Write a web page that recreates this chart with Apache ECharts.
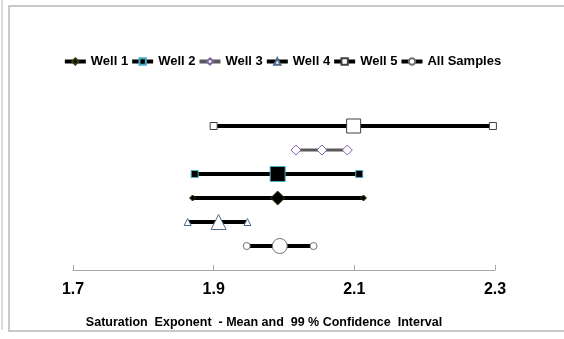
<!DOCTYPE html>
<html>
<head>
<meta charset="utf-8">
<script src="https://cdn.jsdelivr.net/npm/echarts@6/dist/echarts.min.js"></script>
<style>
  html, body { margin: 0; padding: 0; background: #fff; }
  #chart { width: 564px; height: 339px; }
</style>
</head>
<body>
<div id="chart"></div>
<script>
// names, in legend order
const wellNames = ['Well 1', 'Well 2', 'Well 3', 'Well 4', 'Well 5', 'All Samples'];
// row on the chart (1 = bottom)
const rows = [3, 4, 5, 2, 6, 1];
// [low, mean, high] of the 99% confidence interval
const lowVals  = [1.870, 1.873, 2.017, 1.863, 1.900, 1.947];
const meanVals = [1.991, 1.991, 2.054, 1.907, 2.099, 1.994];
const highVals = [2.113, 2.107, 2.090, 1.948, 2.297, 2.042];
const xTicks = [1.7, 1.9, 2.1, 2.3];

const styles = [
    { symbol: 'diamond',  fill: '#000', border: '#3a3a10', line: '#000', width: 4 },
    { symbol: 'rect',     fill: '#000', border: '#4bacc6', line: '#000', width: 4 },
    { symbol: 'diamond',  fill: '#fff', border: '#8064a2', line: '#595959', width: 3 },
    { symbol: 'triangle', fill: '#fff', border: '#4f6b8a', line: '#000', width: 4 },
    { symbol: 'rect',     fill: '#fff', border: '#404040', line: '#000', width: 4 },
    { symbol: 'circle',   fill: '#fff', border: '#707070', line: '#000', width: 4 }
];
const bigSize = [14, 15, 10, 15, 14, 15];
const smallSize = [6, 7, 10, 7, 7, 7];

const chart = echarts.init(document.getElementById('chart'));

const series = wellNames.map((name, i) => ({
    name: name,
    type: 'line',
    symbol: styles[i].symbol,
    symbolSize: (v, p) => p.dataIndex === 1 ? bigSize[i] : smallSize[i],
    lineStyle: { color: styles[i].line, width: styles[i].width },
    itemStyle: { color: styles[i].fill, borderColor: styles[i].border, borderWidth: 1 },
    data: [lowVals[i], meanVals[i], highVals[i]].map(x => [x, rows[i]]),
    animation: false,
    z: 10 - i
}));

chart.setOption({
    backgroundColor: '#fff',
    graphic: [
        { type: 'rect', shape: { x: 9, y: 6, width: 560, height: 325 },
          style: { fill: 'none', stroke: '#b8b8b8', lineWidth: 1.5 } },
        { type: 'line', shape: { x1: 2, y1: 0, x2: 2, y2: 330 },
          style: { stroke: '#b8b8b8', lineWidth: 1 } }
    ],
    legend: {
        top: 50,
        left: 'center',
        itemGap: 2,
        itemWidth: 21,
        itemHeight: 8,
        lineStyle: { width: 4 },
        textStyle: { fontFamily: 'Liberation Sans', fontWeight: 'bold', fontSize: 13, color: '#000' },
        data: wellNames
    },
    grid: { left: 73, right: 69, top: 102, bottom: 69 },
    xAxis: {
        type: 'value',
        min: 1.7,
        max: 2.3,
        interval: 0.2,
        splitLine: { show: false },
        axisLine: { lineStyle: { color: '#a6a6a6', width: 1 } },
        axisTick: { show: true, inside: true, length: 5, lineStyle: { color: '#a6a6a6' } },
        axisLabel: {
            margin: 12,
            fontFamily: 'Liberation Sans', fontWeight: 'bold', fontSize: 16, color: '#000',
            formatter: v => xTicks.find(t => Math.abs(t - v) < 1e-6)?.toFixed(1) ?? ''
        },
        name: 'Saturation  Exponent  - Mean and  99 % Confidence  Interval',
        nameLocation: 'middle',
        nameGap: 46,
        nameTextStyle: { fontFamily: 'Liberation Sans', fontWeight: 'bold', fontSize: 12.5, color: '#000', padding: [0, 40, 0, 0] }
    },
    yAxis: {
        type: 'value',
        min: 0,
        max: 7,
        show: false
    },
    series: series
});
</script>
</body>
</html>
